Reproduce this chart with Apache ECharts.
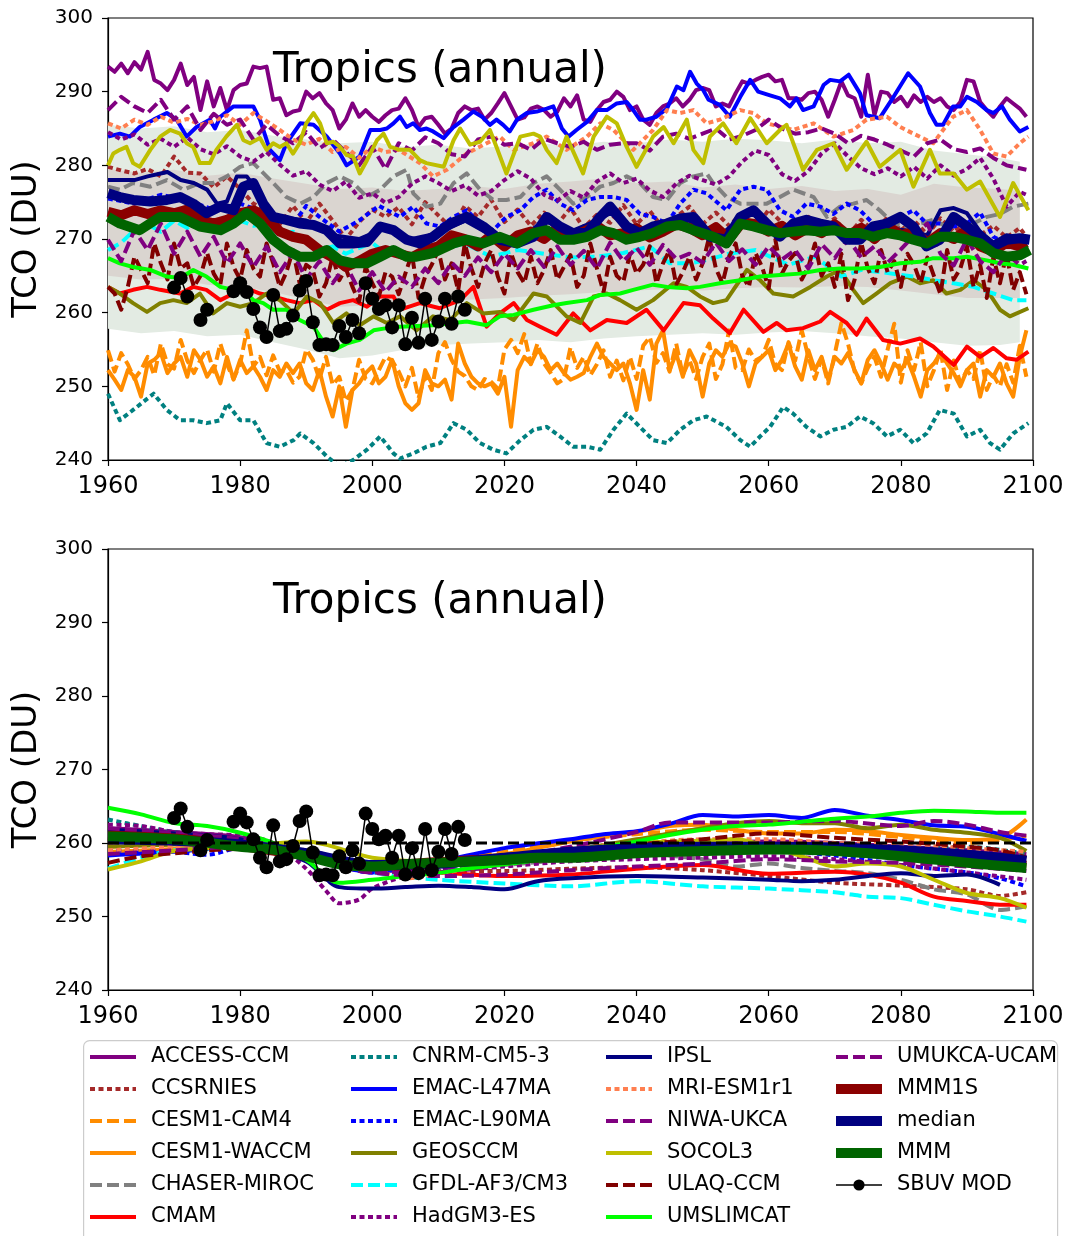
<!DOCTYPE html>
<html><head><meta charset="utf-8">
<script src="https://cdn.jsdelivr.net/npm/echarts@6.0.0/dist/echarts.min.js"></script>
<style>html,body{margin:0;padding:0;background:#fff}#c{width:1071px;height:1236px}</style>
</head><body><div id="c"></div>
<script>
// ---------------- tick labels / axes ----------------
const X_MIN = 1960, X_MAX = 2100, X_STEP = 20;
const Y_MIN = 240, Y_MAX = 300, Y_STEP = 10;
const TITLE = 'Tropics (annual)';
const Y_NAME = 'TCO (DU)';
const ANNUAL_START = 1960;

// ---------------- legend columns ----------------
const LEG_COL1 = ['ACCESS-CCM','CCSRNIES','CESM1-CAM4','CESM1-WACCM','CHASER-MIROC','CMAM'];
const LEG_COL2 = ['CNRM-CM5-3','EMAC-L47MA','EMAC-L90MA','GEOSCCM','GFDL-AF3/CM3','HadGM3-ES'];
const LEG_COL3 = ['IPSL','MRI-ESM1r1','NIWA-UKCA','SOCOL3','ULAQ-CCM','UMSLIMCAT'];
const LEG_COL4 = ['UMUKCA-UCAM','MMM1S','median','MMM','SBUV MOD'];

// ---------------- observations (SBUV MOD) ----------------
const SBUV_YEARS = [1970,1971,1972,1973,1974,1975,1976,1977,1978,1979,1980,1981,1982,1983,1984,1985,1986,1987,1988,1989,1990,1991,1992,1993,1994,1995,1996,1997,1998,1999,2000,2001,2002,2003,2004,2005,2006,2007,2008,2009,2010,2011,2012,2013,2014];
const SBUV_VALUES = [263.4,264.7,262.2,null,259.0,260.4,null,null,null,262.9,264.0,262.8,260.5,258.0,256.7,262.4,257.5,257.8,259.6,263.0,264.3,258.7,255.6,255.7,255.6,258.2,256.7,259.0,257.2,264.0,261.9,260.5,261.0,258.0,261.0,255.7,259.3,255.9,261.9,256.3,258.8,261.9,258.5,262.2,260.4];

// ---------------- TOP panel: annual series (1960..2099) ----------------
const ACCESS_T = [293.4,292.7,293.8,292.5,294.0,293.0,295.4,291.6,291.1,290.2,
291.6,293.8,290.9,292.0,287.5,291.4,288.0,290.5,287.5,290.2,
290.9,291.1,293.4,293.2,293.4,288.9,289.1,286.8,287.3,287.5,
290.0,289.1,289.8,288.4,287.5,285.0,286.2,288.4,286.6,287.5,
286.6,285.9,286.8,287.5,287.7,289.1,287.5,285.2,286.4,286.6,
285.5,284.3,285.0,287.1,288.0,287.5,287.7,286.2,287.1,288.4,
289.8,288.0,286.2,286.5,287.7,288.0,287.5,286.6,287.3,289.1,
288.0,289.5,286.2,285.9,287.5,288.6,288.9,290.0,289.3,287.5,
288.0,286.2,285.5,287.1,288.0,288.4,289.1,288.0,288.9,290.2,
290.5,290.2,288.0,288.4,288.0,289.8,291.4,291.1,291.6,292.0,
292.3,291.4,291.6,289.1,289.1,288.9,289.8,290.0,288.9,286.6,
288.9,291.4,289.5,289.1,286.6,292.3,286.8,290.0,289.8,288.6,
289.3,288.0,289.5,288.6,289.3,288.6,289.1,288.0,287.5,288.6,
291.6,291.4,288.6,287.5,286.6,288.0,289.1,288.4,287.7,286.6];
const WACCM_T = [252.2,250.9,249.5,252.2,251.3,248.6,253.1,253.6,254.5,251.8,
253.1,254.0,251.3,254.9,253.6,251.3,252.7,250.4,254.0,250.9,
253.6,251.8,252.7,251.3,249.5,252.2,251.3,253.1,251.8,253.1,
250.4,249.5,252.2,248.6,245.9,250.0,244.5,249.5,250.4,251.8,
252.7,250.4,251.3,253.6,250.0,247.7,246.8,247.7,252.2,250.4,
250.0,250.9,248.2,255.8,253.1,251.3,250.4,250.0,250.4,249.0,
251.3,244.5,252.2,254.0,253.1,254.9,254.0,252.2,253.1,251.8,
250.9,251.3,251.8,254.0,255.8,254.0,253.1,252.2,253.1,250.4,
246.8,252.2,248.2,255.8,257.6,252.2,254.5,251.3,254.9,253.1,
248.6,253.1,254.9,254.0,255.8,255.4,253.1,250.0,253.1,254.0,
254.9,252.2,253.6,255.8,252.7,250.9,254.9,252.2,254.0,250.9,
254.0,253.1,254.5,252.2,250.4,253.6,254.9,253.1,250.9,253.1,
252.2,253.6,251.3,248.6,252.2,253.1,254.5,253.1,251.8,250.0,
252.2,253.1,248.6,252.2,251.3,253.1,250.4,248.6,254.0,257.6];
const CAM4_T = [254.9,252.0,254.5,253.0,251.0,252.2,254.0,251.5,255.8,253.0,
252.4,256.3,253.5,251.8,253.6,255.0,252.0,255.8,253.0,251.0,
253.0,257.6,252.7,254.0,251.5,254.2,252.0,252.2,250.5,251.3,
255.0,253.6,251.0,254.0,250.2,251.3,248.0,249.5,253.6,251.0,
250.4,252.2,254.0,253.5,252.0,250.0,252.5,248.4,251.5,249.5,
254.5,256.0,253.6,252.0,251.4,250.0,249.5,251.0,250.6,249.7,
255.0,256.3,254.5,257.1,253.0,255.8,253.1,251.8,250.4,251.0,
255.3,252.5,254.0,251.5,253.0,254.9,251.3,253.5,250.8,254.0,
251.0,255.5,256.7,253.2,254.5,252.0,255.8,251.5,253.6,251.0,
254.0,255.8,251.0,253.0,257.6,252.5,252.2,255.0,253.5,254.0,
256.3,253.0,252.2,256.0,253.5,257.6,254.0,251.0,253.8,250.4,
254.4,258.6,255.8,252.0,250.4,252.5,254.0,251.3,255.0,258.5,
250.5,254.9,252.2,256.0,250.0,252.2,255.0,249.5,253.5,250.4,
252.2,251.0,255.0,249.5,251.5,250.0,253.0,250.5,255.5,251.3];
const ULAQ_T = [263.5,262.6,260.4,263.5,267.6,265.8,264.0,269.4,266.7,264.5,
269.4,266.0,266.7,263.5,265.0,268.1,265.3,263.8,269.4,266.2,
264.5,268.5,266.0,264.9,269.4,266.7,263.5,265.5,268.5,264.0,
266.5,265.8,262.2,264.0,267.6,264.4,266.0,263.5,261.5,266.2,
264.0,262.2,265.5,264.9,262.5,265.3,268.0,262.0,264.9,266.5,
268.5,264.5,266.7,263.0,269.4,266.0,263.5,266.7,268.5,264.9,
262.6,268.1,265.5,264.0,267.6,264.0,265.8,268.5,264.5,266.2,
267.8,263.5,265.0,269.4,266.0,262.8,267.6,265.0,264.2,268.0,
265.3,266.5,269.0,264.0,266.7,268.5,263.8,265.5,267.6,264.5,
266.7,270.3,266.0,264.0,267.6,269.4,265.0,263.5,268.1,266.2,
263.3,269.9,265.3,267.0,268.1,264.5,266.2,269.4,265.0,266.7,
263.5,268.0,261.7,264.5,269.5,266.0,264.0,268.5,265.5,267.0,
263.5,268.0,266.5,264.0,267.5,265.0,262.5,268.5,264.5,266.0,
269.0,263.5,266.5,262.0,267.5,264.0,268.0,263.1,265.5,262.5];

// ---------------- TOP panel: [year, DU] series ----------------
const CCSRNIES_T = [[1960,279.8],[1962,279.3],[1964,278.9],[1966,279.5],[1968,278.5],[1970,281.2],[1972,279.0],[1974,278.9],[1976,277.0],[1978,278.5],[1980,276.8],[1982,274.8],[1984,273.9],[1986,272.0],[1988,274.5],[1990,272.2],[1992,274.8],[1994,272.5],[1996,270.0],[1998,272.3],[2000,274.0],[2002,273.0],[2004,274.3],[2006,272.0],[2008,275.0],[2010,273.2],[2012,271.5],[2014,274.5],[2016,273.0],[2018,275.3],[2020,272.3],[2022,274.0],[2024,271.8],[2026,273.6],[2028,272.0],[2030,274.2],[2032,271.5],[2034,273.3],[2036,272.2],[2038,274.6],[2040,272.0],[2042,273.8],[2044,271.5],[2046,273.0],[2048,274.4],[2050,272.0],[2052,273.6],[2054,271.8],[2056,273.5],[2058,271.3],[2060,274.0],[2062,272.2],[2064,270.8],[2066,273.0],[2068,271.5],[2070,272.8],[2072,270.5],[2074,272.6],[2076,271.0],[2078,273.0],[2080,271.2],[2082,272.5],[2084,270.6],[2086,272.8],[2088,271.0],[2090,272.3],[2092,270.5],[2094,271.8],[2096,270.2],[2098,271.5],[2099,270.3]];
const CHASER_T = [[1960,277.1],[1961.8,276.7],[1963.8,277.6],[1966.4,277.1],[1968.9,278.0],[1971.4,276.7],[1973.9,277.6],[1975.9,277.6],[1978,278.5],[1980,279.8],[1982,280.3],[1983,279.4],[1985,277.6],[1987,275.7],[1989.1,274.8],[1991.1,275.7],[1993.1,277.6],[1995.1,278.5],[1997.1,277.6],[1999.2,275.7],[2001.2,276.7],[2003.2,278.5],[2005.2,279.4],[2006.2,276.2],[2008.2,274.4],[2010.3,274.8],[2012.3,277.6],[2014.3,278.9],[2016.3,276.7],[2018.3,275.3],[2020.3,275.3],[2022.4,275.7],[2024.4,277.6],[2026.4,278.5],[2028.4,276.7],[2030.4,274.8],[2032.5,275.7],[2034.5,277.1],[2036.5,277.6],[2038.5,278.5],[2040.5,277.6],[2042.5,275.7],[2044.6,275.3],[2046.6,277.6],[2048.6,278.5],[2050.6,278.9],[2051.6,277.6],[2053.6,275.7],[2055.7,274.8],[2059.7,274.8],[2061.7,275.7],[2063.7,276.7],[2066.8,275.7],[2068.8,273.0],[2070.8,274.4],[2072.8,274.8],[2074.8,275.3],[2076.8,273.9],[2078.9,272.1],[2080.9,271.7],[2082.9,272.1],[2084.9,272.6],[2086.9,271.7],[2089,272.1],[2091,272.1],[2093,273.0],[2095,273.4],[2097,274.4],[2099.3,274.8]];
const CMAM_T = [[1960,263.5],[1961.8,262.6],[1963.8,263.1],[1965.9,263.5],[1967.9,263.1],[1970.9,262.6],[1972.9,263.5],[1974.9,263.1],[1977,261.7],[1979,262.6],[1981,263.3],[1983,262.6],[1985,262.2],[1987,261.7],[1989,261.3],[1991.1,261.7],[1993.1,260.4],[1995.1,261.3],[1997.1,261.7],[1999.2,260.8],[2001.2,262.2],[2003.2,262.2],[2004.2,260.4],[2007.2,261.3],[2010.2,260.6],[2013.3,261.7],[2015.3,263.5],[2017.3,258.1],[2019.3,259.9],[2021.4,261.3],[2023.4,259.0],[2025.4,258.1],[2027.9,257.0],[2030.4,259.9],[2033,257.6],[2035.5,259.0],[2038.5,258.6],[2041.5,260.4],[2044.1,257.6],[2047.1,261.3],[2049.6,261.0],[2051.6,259.2],[2054.1,257.2],[2056.2,260.4],[2059.2,257.4],[2061.2,258.6],[2062.7,257.6],[2065.2,257.9],[2067.8,258.8],[2069.3,260.1],[2071.8,258.6],[2073.3,257.0],[2074.8,259.2],[2077.3,256.3],[2079.9,255.8],[2082.9,256.5],[2084.9,255.4],[2088,252.9],[2090,255.4],[2092,254.0],[2094,255.2],[2096,253.8],[2097.5,253.6],[2099.3,254.7]];
const CNRM_T = [[1960,249.0],[1961.8,245.4],[1963.8,246.8],[1966.9,249.0],[1968.9,246.8],[1970.9,245.4],[1972.9,245.4],[1974.9,245.0],[1977,245.4],[1978,247.7],[1980,245.4],[1982,245.4],[1984,242.3],[1986,241.8],[1988.1,242.7],[1989.1,243.6],[1991.1,242.3],[1993.1,240.5],[1995.1,239.1],[1997.1,240.0],[1999.2,241.4],[2001.2,243.2],[2003.2,240.9],[2004.2,240.2],[2006.2,240.9],[2008.2,241.8],[2010.3,242.3],[2012.3,245.0],[2014.3,244.1],[2016.3,242.3],[2018.3,241.4],[2020.3,240.9],[2022.4,242.7],[2024.4,244.1],[2026.4,244.5],[2028.4,243.2],[2030.4,241.8],[2032.5,241.8],[2034.5,241.4],[2036.5,244.1],[2038.5,246.3],[2040.5,244.5],[2042.5,242.7],[2044.6,242.3],[2046.6,244.1],[2048.6,245.4],[2050.6,245.9],[2053.6,244.5],[2055.7,242.7],[2057.2,241.8],[2058.7,243.2],[2060.2,244.5],[2062.2,247.2],[2063.7,246.3],[2065.7,244.5],[2067.8,243.2],[2069.8,244.1],[2071.8,244.5],[2073.8,245.9],[2075.8,245.0],[2077.9,243.2],[2079.9,244.1],[2081.9,242.3],[2083.9,243.6],[2085.9,246.8],[2088,246.3],[2090,243.2],[2092,244.1],[2093.5,242.3],[2095,241.4],[2097,243.6],[2099.3,245.0]];
const L47_T = [[1960,283.9],[1961.8,284.3],[1963.3,283.9],[1964.8,285.2],[1966.9,286.2],[1968.9,287.1],[1970.4,286.2],[1971.9,283.9],[1973.4,285.2],[1975.4,286.2],[1976.2,285.0],[1977,286.6],[1979,288.0],[1980.5,288.0],[1982,288.0],[1983,286.2],[1984.5,282.1],[1986,280.7],[1987,283.0],[1989.1,285.7],[1991.1,285.5],[1993.1,283.9],[1995.1,281.6],[1996.1,280.0],[1998.1,281.2],[1999.7,284.8],[2001.2,284.8],[2002.2,285.0],[2003.2,285.7],[2004.2,286.6],[2005.2,285.2],[2006.2,285.7],[2007.2,284.8],[2008.2,285.0],[2009.2,284.6],[2010.8,283.7],[2012.3,285.2],[2013.8,286.2],[2015.3,287.3],[2016.6,286.6],[2017.8,285.5],[2018.8,286.2],[2019.8,285.5],[2020.8,284.6],[2021.9,286.2],[2023.4,287.1],[2024.9,287.3],[2026.4,287.7],[2027.4,288.0],[2028.7,285.0],[2029.7,283.9],[2030.9,284.8],[2032.5,285.9],[2034,287.5],[2035.5,287.5],[2037,288.4],[2038.5,288.6],[2039.5,287.5],[2040.5,286.2],[2041.5,286.2],[2043,286.6],[2044.6,287.7],[2046.1,290.7],[2047.1,290.2],[2048.1,292.7],[2049.1,291.1],[2050.1,290.2],[2050.9,288.9],[2052.6,288.2],[2054.1,286.6],[2055.7,289.3],[2057.2,291.6],[2058.4,290.0],[2060.2,289.5],[2061.7,289.1],[2063.2,288.0],[2064.2,289.1],[2065.2,287.5],[2066.8,288.0],[2068.3,290.9],[2069.3,291.6],[2070.8,291.4],[2072.1,292.3],[2073.8,289.8],[2074.8,286.8],[2076.8,286.4],[2078.9,289.3],[2081.1,292.5],[2082.9,290.7],[2084.4,287.1],[2085.4,285.5],[2086.4,285.5],[2087.9,288.0],[2089,288.0],[2090,289.3],[2091.5,288.6],[2093,287.5],[2094,287.1],[2095.3,288.0],[2096.5,286.2],[2098,284.6],[2099.3,285.2]];
const L90_T = [[1960,275.5],[1964,274.8],[1968,276.0],[1972,275.2],[1976,274.0],[1980,274.8],[1984,273.5],[1988,272.0],[1990,274.5],[1992,273.0],[1995,271.0],[1998,272.5],[2001,274.5],[2004.2,273.0],[2006.2,274.4],[2008.2,272.1],[2010.3,271.7],[2012.3,273.0],[2014.3,273.9],[2016.3,272.1],[2018.3,271.2],[2020.3,273.0],[2022.4,273.9],[2024.4,275.7],[2026.4,276.7],[2028.4,274.8],[2030.4,273.9],[2032.5,275.3],[2034.5,275.7],[2036.5,275.7],[2038.5,275.3],[2040.5,273.4],[2042.5,273.0],[2044.6,272.1],[2046.6,274.8],[2048.6,276.7],[2050.6,276.2],[2053.6,273.9],[2055.7,276.7],[2057.7,277.1],[2059.7,276.7],[2061.7,273.9],[2063.7,273.0],[2065.7,274.8],[2067.8,274.4],[2069.8,273.4],[2071.8,274.8],[2073.8,273.9],[2075.8,272.1],[2077.9,271.2],[2079.9,273.0],[2081.9,273.9],[2083.9,272.1],[2085.9,272.1],[2088,271.7],[2090,272.1],[2092,273.6],[2094,270.3],[2096,269.4],[2098,268.5],[2099.3,268.1]];
const GEOS_T = [[1960,263.5],[1961.8,262.6],[1963.8,261.3],[1965.9,260.1],[1967.9,261.3],[1969.9,261.7],[1971.9,261.3],[1973.9,262.6],[1975.9,259.9],[1978,261.3],[1980,260.8],[1982,261.3],[1984,262.6],[1986,261.7],[1988.1,259.9],[1990.1,262.2],[1992.1,261.3],[1994.1,258.6],[1996.1,259.9],[1998.1,258.3],[2000.2,259.5],[2002.2,258.6],[2004.2,259.5],[2006.7,257.6],[2009.2,259.5],[2011.8,259.0],[2014.3,261.3],[2016.8,259.9],[2019.3,260.1],[2021.4,259.0],[2024.4,262.6],[2026.4,262.2],[2029.4,259.5],[2031.5,258.6],[2033.5,262.2],[2035.5,262.6],[2037.5,261.7],[2040,260.4],[2042.5,261.7],[2045.6,264.0],[2047.6,263.5],[2049.6,262.2],[2051.6,261.3],[2053.6,261.7],[2056.7,265.8],[2058.7,264.4],[2060.7,262.6],[2063.7,262.2],[2066.3,263.5],[2068.8,264.9],[2070.8,265.8],[2072.8,263.1],[2074.3,261.3],[2076.3,262.6],[2078.4,264.0],[2080.9,264.9],[2082.9,264.0],[2084.9,264.4],[2086.9,262.6],[2089,263.1],[2091,264.4],[2093,263.1],[2095,260.4],[2096.5,259.5],[2099.3,260.6]];
const GFDL_T = [[1960,268.5],[1962,269.5],[1964,271.2],[1966,272.0],[1968,271.0],[1970,272.5],[1972,271.5],[1974,273.0],[1976,272.2],[1978,271.5],[1980,272.5],[1982,271.8],[1984,272.0],[1986,270.5],[1988,271.0],[1990,269.8],[1992,268.5],[1994,269.0],[1996,268.0],[1998,268.8],[2000,269.5],[2002,268.0],[2004,268.5],[2006,267.6],[2008,268.2],[2010,268.5],[2014,269.4],[2018,267.6],[2022,268.5],[2026,268.0],[2030,267.5],[2034,267.6],[2038,268.1],[2042,269.0],[2045,266.7],[2048,266.7],[2050,267.0],[2054,268.0],[2058,268.5],[2063,266.5],[2067,267.6],[2071,264.9],[2074,265.8],[2077,265.5],[2082,264.9],[2085,264.4],[2088,264.0],[2091,263.5],[2094,262.6],[2097,261.7],[2099,261.7]];
const HADGM3_T = [[1960,284.5],[1962,283.5],[1964,284.2],[1966,282.8],[1968,283.6],[1970,282.5],[1972,283.8],[1974,282.2],[1976,281.5],[1978,282.6],[1980,281.2],[1982,280.5],[1984,281.8],[1986,280.1],[1988,278.6],[1990,279.2],[1992,277.4],[1994,276.5],[1996,277.8],[1998,275.6],[2000,276.2],[2002,274.9],[2004,275.7],[2006,277.5],[2008,278.5],[2010,277.6],[2012,276.5],[2014,277.3],[2016,275.9],[2018,276.5],[2020,278.0],[2022,279.2],[2024,278.2],[2026,276.0],[2028,275.2],[2030,276.5],[2032,275.6],[2034,277.8],[2036,278.9],[2038,277.6],[2040,278.2],[2042,276.6],[2044,275.7],[2046,277.5],[2048,278.6],[2050,278.0],[2052,277.4],[2054,278.5],[2056,280.5],[2058,282.0],[2060,281.4],[2062,278.8],[2064,277.9],[2066,279.2],[2068,281.6],[2070,283.0],[2072,281.2],[2074,279.6],[2076,278.8],[2078,279.6],[2080,278.5],[2082,279.8],[2084,278.2],[2086,280.0],[2088,278.6],[2090,279.5],[2092,281.0],[2094,278.2],[2096,274.4],[2098,276.4],[2099,276.0]];
const IPSL_T = [[1960,278.0],[1964,278.0],[1966,278.5],[1969,279.1],[1971,278.0],[1973,277.6],[1975,276.7],[1976.5,274.8],[1978,275.1],[1979.5,278.5],[1981,278.5],[1982.5,276.7],[1983.5,273.9],[1986,273.0],[1990,272.5],[1994,270.5],[1998,270.0],[2002,271.5],[2006,270.0],[2010,270.8],[2014,272.5],[2018,270.5],[2022,269.8],[2026,272.5],[2030,271.0],[2034,272.5],[2036,273.5],[2040,271.0],[2044,271.8],[2048,272.5],[2052,270.0],[2056,273.0],[2058,273.5],[2062,270.8],[2066,272.3],[2070,271.5],[2074,270.0],[2078,271.5],[2082,271.0],[2084,270.5],[2086,273.9],[2088,274.2],[2090,273.5],[2092,271.0],[2094,269.5],[2096,270.5],[2099,270.0]];
const MRI_T = [[1960,285.7],[1962,285.0],[1964,286.2],[1966,285.5],[1968,286.6],[1970,285.8],[1972,286.3],[1974,285.5],[1976,286.0],[1978,286.8],[1980,285.5],[1982,287.1],[1984,286.0],[1986,284.8],[1988,283.5],[1990,282.8],[1992,283.6],[1994,281.8],[1996,282.5],[1998,281.0],[2000,282.5],[2002,281.8],[2004,282.1],[2007.2,280.3],[2009.2,278.5],[2011.3,279.4],[2014.3,281.6],[2017.3,283.0],[2019.3,283.9],[2021.4,282.1],[2024.4,283.0],[2026.4,283.9],[2029.4,282.1],[2032.5,283.9],[2034.5,285.7],[2036.5,284.8],[2039.5,282.1],[2042.5,284.8],[2044.6,287.5],[2046.6,287.1],[2048.6,287.5],[2050.6,285.7],[2052.6,286.2],[2055.7,287.5],[2057.7,287.1],[2059.7,285.7],[2063.7,284.8],[2066.8,285.7],[2069.8,283.9],[2072.8,284.8],[2074.8,286.2],[2077.9,286.6],[2079.9,285.2],[2081.9,284.3],[2084.9,283.0],[2087.9,286.6],[2090,287.5],[2092,284.8],[2094,281.6],[2096,281.2],[2098,283.0],[2099.3,283.9]];
const NIWA_T = [[1960,287.5],[1962,289.3],[1964,288.0],[1966,287.1],[1968,288.9],[1970,286.2],[1972,288.0],[1974,284.8],[1976,287.0],[1978,285.5],[1980,286.2],[1982,283.5],[1984,285.5],[1986,284.0],[1988,283.0],[1990,284.5],[1992,282.3],[1994,283.5],[1996,281.8],[1998,280.0],[2000,282.5],[2002,279.5],[2004,283.0],[2006,282.0],[2008,283.8],[2010,283.0],[2012,281.5],[2014,281.2],[2016,283.5],[2018,283.9],[2020,282.8],[2022,283.0],[2024,282.1],[2026,283.6],[2028,283.0],[2030,282.5],[2032,283.2],[2034,282.1],[2036,282.8],[2038,283.0],[2040,283.0],[2042,282.0],[2044,283.9],[2046,284.3],[2048,283.6],[2050,284.3],[2052,285.0],[2054,283.5],[2056,284.0],[2058,284.8],[2060,286.2],[2062,285.0],[2064,284.3],[2066,284.5],[2068,285.0],[2070,284.3],[2072,283.0],[2074,284.0],[2076,283.5],[2078,282.8],[2080,282.0],[2082,281.2],[2084,283.0],[2086,283.5],[2088,282.2],[2090,281.8],[2092,282.3],[2094,281.0],[2096,280.0],[2098,279.6],[2099,279.4]];
const SOCOL_T = [[1960,280.0],[1960.8,281.6],[1961.8,282.1],[1962.8,282.5],[1963.8,280.3],[1964.8,279.8],[1966.4,282.1],[1967.9,283.9],[1969.4,284.8],[1970.9,284.3],[1971.9,283.0],[1972.9,282.5],[1973.9,280.3],[1975.4,280.3],[1976.4,282.1],[1977.9,283.9],[1979.5,285.5],[1980.5,283.4],[1981.5,283.0],[1983,283.7],[1984,282.1],[1985,283.0],[1986,282.5],[1987,283.0],[1988,281.6],[1989,283.0],[1990,285.7],[1991.1,287.1],[1992.1,285.7],[1993.1,283.0],[1994.1,283.2],[1995.1,282.5],[1996.1,281.4],[1997.1,281.2],[1998.1,278.9],[1999.2,280.7],[2000.7,283.4],[2001.7,284.3],[2002.7,282.5],[2004.2,282.1],[2005.7,282.1],[2007.2,280.7],[2008.2,280.3],[2010.8,279.8],[2012.3,283.4],[2013.3,285.0],[2014.8,282.8],[2016.3,283.2],[2017.8,284.8],[2018.8,282.5],[2020.3,278.9],[2022.4,283.9],[2024.4,284.3],[2025.4,283.9],[2026.4,282.1],[2027.9,280.3],[2029.4,283.9],[2031.9,278.9],[2033.5,283.9],[2035.5,286.6],[2037,285.7],[2038.5,282.5],[2040,279.8],[2042.5,283.9],[2044.1,285.2],[2045.6,283.0],[2047.6,286.2],[2048.6,282.1],[2050.1,280.3],[2051.1,283.9],[2053.1,285.7],[2055.1,283.0],[2057.2,286.4],[2059.7,283.0],[2061.7,284.8],[2062.7,285.5],[2065.2,279.4],[2067.3,282.1],[2069.8,283.0],[2071.8,279.4],[2074.8,283.2],[2076.8,279.8],[2079.9,282.1],[2081.9,277.1],[2084.4,282.1],[2085.9,278.9],[2088,278.9],[2090,276.7],[2092,277.8],[2095,273.0],[2097,277.6],[2099.3,273.9]];
const UMSLIM_T = [[1960,267.4],[1961.8,266.7],[1963.8,266.2],[1966.4,265.8],[1968.9,264.9],[1970.9,264.7],[1972.9,265.8],[1974.9,264.9],[1977,263.5],[1979,263.1],[1980.5,263.1],[1982,261.7],[1983.5,261.3],[1985,260.4],[1987,260.4],[1989,259.0],[1991.1,258.1],[1993.1,255.4],[1994.1,254.9],[1996.1,255.8],[1998.1,256.3],[2000.2,257.6],[2002.2,257.9],[2004.2,258.1],[2009.2,258.3],[2012.3,258.6],[2014.3,258.8],[2017.3,258.3],[2019.3,259.5],[2021.4,259.7],[2024.4,260.4],[2027.4,261.0],[2029.4,261.3],[2032.5,261.7],[2034.5,262.4],[2037.5,262.6],[2039.5,263.1],[2042.5,263.8],[2044.6,263.5],[2047.6,263.3],[2049.6,263.5],[2052.6,264.0],[2055.7,264.4],[2058.7,264.9],[2061.7,265.1],[2064.7,265.3],[2067.8,265.8],[2070.8,266.0],[2073.8,266.0],[2076.8,266.2],[2079.9,266.7],[2082.9,266.9],[2084.9,267.4],[2088,267.4],[2090,267.6],[2093,267.1],[2095,266.7],[2097,266.5],[2099.3,266.0]];
const UMUKCA_T = [[1960,269.9],[1962,267.0],[1964,271.2],[1966,268.5],[1968,272.1],[1970,268.0],[1972,271.0],[1974,267.6],[1976,270.3],[1978,266.7],[1980,269.4],[1982,266.2],[1984,269.0],[1986,265.5],[1988,268.2],[1990,264.5],[1992,267.0],[1994,264.0],[1996,266.5],[1998,263.0],[2000,265.5],[2002,262.8],[2004,264.9],[2006,263.5],[2008,266.0],[2010,264.0],[2012,266.8],[2014,265.0],[2016,267.5],[2018,265.5],[2020,268.0],[2022,266.0],[2024,268.5],[2026,266.2],[2028,269.0],[2030,266.5],[2032,268.4],[2034,266.0],[2036,269.5],[2038,267.0],[2040,268.8],[2042,266.5],[2044,269.2],[2046,267.3],[2048,268.0],[2050,266.8],[2052,269.5],[2054,267.0],[2056,268.6],[2058,266.5],[2060,269.0],[2062,267.2],[2064,268.5],[2066,266.0],[2068,269.3],[2070,267.4],[2072,270.0],[2074,267.5],[2076,269.0],[2078,266.8],[2080,268.6],[2082,270.5],[2084,272.1],[2086,268.0],[2088,266.4],[2090,270.0],[2092,267.0],[2094,265.5],[2096,268.0],[2098,266.5],[2099,267.0]];
const MMM1S_T = [[1960,273.7],[1962,273.2],[1964,273.9],[1966,273.4],[1968,273.9],[1970,273.5],[1972,274.0],[1974,272.6],[1976,272.1],[1978,272.6],[1980,273.5],[1982,273.9],[1984,273.0],[1986,271.0],[1988,270.3],[1990,269.9],[1992,268.5],[1994,267.5],[1996,266.2],[1998,267.0],[2000,268.0],[2002,268.5],[2004,268.0],[2006,267.5],[2008,268.5],[2010,269.0],[2012,270.5],[2014,270.0],[2016,269.0],[2018,270.5],[2020,269.0],[2022,270.5],[2024,271.0],[2026,270.0],[2028,271.5],[2030,270.2],[2032,271.0],[2034,271.8],[2036,270.5],[2038,270.8],[2040,271.5],[2042,270.2],[2044,271.0],[2046,272.0],[2048,271.5],[2050,270.5],[2052,271.6],[2054,270.0],[2056,272.3],[2058,272.0],[2060,271.0],[2062,271.8],[2064,270.5],[2066,271.5],[2068,270.8],[2070,272.0],[2072,270.5],[2074,271.5],[2076,270.0],[2078,271.8],[2080,270.5],[2082,271.0],[2084,269.5],[2086,270.8],[2088,270.0],[2090,271.2],[2092,269.0],[2094,268.3],[2096,269.5],[2098,269.0],[2099,269.5]];
const MEDIAN_T = [[1960,276.2],[1961.8,275.7],[1963.8,275.3],[1966.4,275.1],[1968.9,275.3],[1970.9,275.7],[1972.9,274.8],[1974.9,273.5],[1977,274.4],[1979,273.9],[1980.5,277.1],[1982,277.6],[1983.5,274.8],[1985,273.0],[1987,272.6],[1989,272.1],[1991.1,271.9],[1993.1,271.2],[1995.1,269.4],[1997.1,269.4],[1999.2,269.6],[2001.2,271.7],[2003.2,271.2],[2005.2,269.9],[2007.2,269.4],[2009.2,270.3],[2011.8,272.1],[2014.3,273.0],[2016.8,271.7],[2019.3,269.9],[2021.9,269.4],[2024.4,270.3],[2026.4,273.0],[2028.4,271.7],[2030.4,270.8],[2032.5,270.8],[2034.5,273.0],[2036,274.4],[2038.5,271.7],[2040.5,270.8],[2042.5,271.7],[2044.6,272.1],[2046.6,272.8],[2048.6,273.0],[2051.1,270.3],[2053.6,269.9],[2055.7,273.0],[2057.7,273.9],[2059.7,272.1],[2061.7,270.3],[2063.7,272.1],[2065.7,272.6],[2067.8,272.1],[2069.8,271.7],[2071.8,269.9],[2073.8,269.9],[2075.8,271.7],[2077.9,272.1],[2079.9,273.0],[2081.9,271.7],[2083.9,269.0],[2085.9,269.9],[2088,273.0],[2090,271.7],[2092,270.3],[2094,269.0],[2096,269.9],[2098,270.1],[2099.5,269.9]];
const MMM_T = [[1960,273.0],[1961.8,272.1],[1964.8,271.2],[1967.9,273.0],[1970.9,273.0],[1973.9,271.7],[1977,271.2],[1979,272.1],[1981,273.5],[1983,272.1],[1985,269.9],[1987,268.5],[1989,267.6],[1991.1,267.6],[1993.1,268.5],[1995.1,267.1],[1997.1,266.7],[1999.2,266.7],[2001.2,267.6],[2003.2,268.5],[2005.2,267.6],[2006.7,267.6],[2009.2,268.1],[2012.3,269.4],[2014.3,269.9],[2016.8,269.4],[2019.3,270.3],[2021.9,269.4],[2024.4,270.8],[2026.4,271.2],[2028.4,269.9],[2030.4,269.9],[2032.5,270.3],[2034.5,271.2],[2036.5,270.8],[2038.5,269.9],[2040.5,270.3],[2042.5,270.8],[2044.6,271.7],[2046.6,271.9],[2048.6,271.2],[2051.6,270.3],[2053.6,269.4],[2055.7,272.1],[2057.7,271.7],[2059.7,271.2],[2061.7,270.8],[2063.7,271.0],[2065.7,271.2],[2067.8,271.0],[2069.8,271.2],[2071.8,270.8],[2073.8,270.8],[2075.8,270.3],[2077.9,270.8],[2079.9,270.5],[2081.9,269.9],[2083.9,269.4],[2085.9,270.3],[2088,270.3],[2090,269.9],[2092,269.4],[2094,268.1],[2096,267.6],[2098,267.8],[2099.5,268.5]];

// ---------------- TOP panel: spread bands ----------------
const BAND_OUT_HI = [[1960,285.5],[1965,285.0],[1970,285.3],[1975,284.5],[1980,284.8],[1985,284.0],[1990,283.5],[1995,283.0],[2000,283.2],[2005,282.5],[2010,282.8],[2015,282.3],[2020,282.6],[2025,283.0],[2030,282.7],[2035,283.2],[2040,283.0],[2045,283.5],[2050,283.2],[2055,283.6],[2060,283.4],[2065,283.0],[2070,283.5],[2075,283.0],[2080,283.2],[2085,282.0],[2090,281.5],[2095,281.0],[2098,280.5]];
const BAND_OUT_LO = [[1960,257.8],[1965,257.2],[1970,257.5],[1975,256.8],[1980,257.0],[1985,256.0],[1990,255.0],[1995,253.8],[2000,254.2],[2005,255.0],[2010,255.6],[2015,255.8],[2020,256.0],[2025,256.3],[2030,256.0],[2035,256.5],[2040,256.8],[2045,257.0],[2050,257.2],[2055,257.0],[2060,257.3],[2065,257.5],[2070,257.2],[2075,256.8],[2080,256.5],[2085,256.0],[2090,255.5],[2095,255.6],[2098,256.0]];
const BAND_IN_HI = [[1960,279.5],[1965,279.0],[1970,279.4],[1975,278.6],[1980,279.0],[1985,278.2],[1990,277.5],[1995,276.8],[2000,277.0],[2005,276.5],[2010,276.8],[2015,277.2],[2020,276.8],[2025,277.5],[2030,277.8],[2035,278.2],[2040,277.6],[2045,277.8],[2050,277.0],[2055,277.4],[2060,276.8],[2065,277.2],[2070,276.5],[2075,276.8],[2080,276.0],[2085,277.5],[2090,277.0],[2095,276.8],[2098,276.5]];
const BAND_IN_LO = [[1960,265.0],[1965,264.5],[1970,264.6],[1975,263.8],[1980,263.5],[1985,262.8],[1990,261.8],[1995,260.8],[2000,261.0],[2005,261.2],[2010,261.5],[2015,261.8],[2020,262.0],[2025,262.3],[2030,262.5],[2035,262.8],[2040,263.0],[2045,263.2],[2050,263.0],[2055,263.3],[2060,263.5],[2065,263.4],[2070,263.6],[2075,263.5],[2080,263.0],[2085,262.5],[2090,262.0],[2095,262.0],[2098,262.0]];

// ---------------- BOTTOM panel: smoothed series [year, DU] ----------------
const ACCESS_B = [[1960,262.0],[1970,261.5],[1980,260.8],[1990,258.8],[2000,256.5],[2010,256.8],[2020,258.0],[2030,259.0],[2040,259.5],[2050,260.0],[2060,260.2],[2070,260.0],[2080,259.5],[2090,259.0],[2099,258.5]];
const CCSRNIES_B = [[1960,260.0],[1970,260.5],[1980,260.5],[1990,259.0],[2000,257.0],[2010,256.2],[2020,256.2],[2030,256.5],[2040,256.7],[2050,256.3],[2060,255.5],[2070,254.6],[2080,254.2],[2090,253.7],[2095,252.8],[2099,253.3]];
const CAM4_B = [[1960,259.5],[1970,259.8],[1980,260.0],[1990,258.8],[2000,257.2],[2010,257.6],[2020,258.8],[2030,260.3],[2040,261.2],[2050,261.8],[2060,261.5],[2070,261.5],[2080,260.8],[2090,260.0],[2099,261.0]];
const WACCM_B = [[1960,258.8],[1970,259.2],[1980,259.8],[1990,258.8],[2000,257.0],[2010,257.5],[2020,258.5],[2030,260.2],[2035,260.9],[2040,261.5],[2045,262.3],[2050,262.5],[2055,261.8],[2060,261.3],[2065,261.3],[2070,261.8],[2075,261.6],[2080,261.1],[2085,260.7],[2090,260.4],[2095,260.7],[2099,263.2]];
const CHASER_B = [[1960,260.5],[1970,260.0],[1980,260.0],[1990,259.0],[2000,257.0],[2010,256.5],[2020,257.0],[2030,257.8],[2040,258.5],[2050,257.8],[2055,256.8],[2060,257.2],[2065,256.6],[2070,256.2],[2075,255.9],[2080,255.0],[2085,253.7],[2090,253.0],[2095,250.9],[2099,251.4]];
const CMAM_B = [[1960,260.5],[1970,260.2],[1980,259.8],[1990,258.5],[2000,256.5],[2010,256.0],[2020,255.5],[2030,255.7],[2040,256.5],[2050,257.0],[2060,255.8],[2070,256.1],[2075,255.7],[2080,254.6],[2085,252.7],[2090,252.1],[2095,251.6],[2099,251.6]];
const CNRM_B = [[1960,263.2],[1965,262.3],[1970,261.5],[1980,260.5],[1990,258.5],[2000,256.5],[2010,256.5],[2020,257.5],[2030,258.3],[2040,259.0],[2050,259.3],[2060,259.4],[2070,259.2],[2080,259.0],[2090,259.5],[2099,258.5]];
const L47_B = [[1960,258.3],[1970,258.8],[1980,259.5],[1990,258.5],[2000,256.0],[2010,257.5],[2020,259.3],[2030,260.5],[2035,261.2],[2040,261.6],[2045,262.6],[2050,263.8],[2055,263.6],[2060,263.8],[2065,263.4],[2070,264.5],[2075,263.7],[2080,263.1],[2085,262.4],[2090,262.2],[2095,261.2],[2099,260.3]];
const L90_B = [[1960,259.0],[1970,258.8],[1975,258.4],[1980,259.3],[1990,258.3],[2000,256.0],[2010,256.8],[2020,258.0],[2030,258.5],[2040,259.2],[2050,259.3],[2060,259.1],[2070,258.3],[2075,257.7],[2080,257.0],[2090,256.0],[2095,255.2],[2099,254.1]];
const GEOS_B = [[1960,259.5],[1970,259.8],[1980,260.0],[1990,258.5],[2000,256.5],[2010,257.0],[2020,258.0],[2030,259.0],[2040,260.5],[2045,261.3],[2050,262.0],[2055,262.7],[2060,263.0],[2065,262.7],[2070,262.7],[2075,262.0],[2080,262.5],[2085,261.8],[2090,261.4],[2095,260.7],[2099,258.9]];
const GFDL_B = [[1960,256.5],[1965,258.0],[1970,259.0],[1980,259.3],[1990,258.0],[2000,256.0],[2010,255.0],[2020,254.5],[2030,254.1],[2040,254.8],[2050,254.1],[2060,253.8],[2070,253.3],[2075,252.7],[2080,252.5],[2085,251.6],[2090,250.7],[2095,250.0],[2099,249.3]];
const HADGM3_B = [[1960,262.5],[1965,262.3],[1970,261.5],[1975,261.2],[1980,261.0],[1985,260.0],[1990,256.5],[1993,253.5],[1995,251.8],[1998,252.3],[2000,253.8],[2005,255.5],[2010,256.0],[2020,256.8],[2030,257.5],[2040,257.8],[2050,258.0],[2060,258.2],[2070,257.8],[2080,257.0],[2090,256.0],[2099,255.0]];
const IPSL_B = [[1960,261.8],[1970,261.3],[1980,260.5],[1990,257.5],[1995,254.0],[2000,253.8],[2005,254.0],[2010,254.2],[2015,254.0],[2020,253.7],[2025,254.8],[2030,255.2],[2040,255.5],[2050,255.3],[2060,255.0],[2065,254.8],[2070,255.0],[2080,255.9],[2085,255.5],[2090,255.7],[2095,254.3]];
const MRI_B = [[1960,259.0],[1970,259.5],[1980,260.0],[1990,258.5],[2000,256.5],[2005,255.2],[2010,255.8],[2020,257.5],[2030,259.3],[2040,260.0],[2050,260.5],[2060,260.5],[2070,260.0],[2080,259.8],[2090,259.3],[2099,258.8]];
const NIWA_B = [[1960,262.0],[1970,261.3],[1980,260.5],[1990,258.5],[2000,256.0],[2010,256.5],[2020,258.0],[2030,259.5],[2040,261.5],[2045,262.8],[2050,262.8],[2060,262.8],[2070,263.0],[2080,262.3],[2085,263.0],[2090,262.5],[2095,261.5],[2099,261.0]];
const SOCOL_B = [[1960,256.4],[1965,257.5],[1970,258.9],[1980,259.5],[1990,260.2],[2000,258.0],[2010,257.5],[2020,258.0],[2030,259.0],[2040,260.0],[2050,260.3],[2055,260.5],[2060,259.5],[2065,258.2],[2070,256.8],[2075,257.2],[2080,256.8],[2085,255.0],[2090,253.2],[2095,252.5],[2099,251.2]];
const ULAQ_B = [[1960,257.3],[1965,258.2],[1970,258.6],[1980,259.2],[1990,258.5],[2000,256.5],[2010,256.8],[2020,258.0],[2030,259.0],[2040,259.8],[2050,260.5],[2060,261.3],[2070,260.7],[2080,260.2],[2090,259.5],[2095,259.0],[2099,258.0]];
const UMSLIM_B = [[1960,264.8],[1965,263.9],[1970,262.7],[1975,262.3],[1980,261.4],[1985,260.0],[1990,257.7],[1995,254.6],[2000,255.0],[2005,255.5],[2010,255.9],[2015,256.6],[2020,257.1],[2025,257.7],[2030,259.1],[2035,259.5],[2040,260.2],[2045,261.1],[2050,261.8],[2055,262.3],[2060,262.5],[2065,262.9],[2070,263.3],[2075,263.6],[2080,264.1],[2085,264.4],[2090,264.3],[2095,264.1],[2099,264.1]];
const UMUKCA_B = [[1960,258.5],[1970,259.0],[1980,259.5],[1990,258.0],[2000,256.0],[2010,255.5],[2020,255.7],[2030,256.3],[2040,256.8],[2050,257.2],[2060,257.8],[2070,257.5],[2080,257.3],[2090,256.8],[2099,256.2]];
const MMM1S_B = [[1960,261.0],[1970,260.6],[1980,259.6],[1990,258.3],[2000,256.9],[2010,257.4],[2020,257.9],[2030,258.2],[2040,258.8],[2050,259.1],[2060,259.3],[2070,259.1],[2080,258.5],[2090,257.6],[2099,256.9]];
const MEDIAN_B = [[1960,260.5],[1970,260.3],[1980,259.8],[1990,258.6],[2000,257.0],[2010,257.2],[2020,258.0],[2030,258.8],[2040,259.3],[2050,259.5],[2060,259.5],[2070,259.4],[2080,259.0],[2090,258.4],[2095,258.0],[2099,257.6]];
const MMM_B = [[1960,260.9],[1970,260.5],[1980,259.5],[1985,259.1],[1990,258.2],[1995,257.1],[2000,256.8],[2005,257.1],[2010,257.3],[2020,257.7],[2025,258.0],[2030,258.0],[2040,258.6],[2050,258.9],[2060,259.1],[2070,258.9],[2080,258.2],[2090,257.3],[2099,256.6]];
const REF_B = [[1960,260],[2100,260]];

// ---------------- styles ----------------
const FONT = 'DejaVu Sans';
const LW = 4, LW_THICK = 10;
const DASH = [12,5], DOT = [5,3.5];
const STY = {
  'ACCESS-CCM':['#800080','solid',LW],'CCSRNIES':['#a52a2a',DOT,LW],'CESM1-CAM4':['#ff8c00',DASH,LW],
  'CESM1-WACCM':['#ff8c00','solid',LW],'CHASER-MIROC':['#808080',DASH,LW],'CMAM':['#ff0000','solid',LW],
  'CNRM-CM5-3':['#008080',DOT,LW],'EMAC-L47MA':['#0000ff','solid',LW],'EMAC-L90MA':['#0000ff',DOT,LW],
  'GEOSCCM':['#808000','solid',LW],'GFDL-AF3/CM3':['#00ffff',DASH,LW],'HadGM3-ES':['#800080',DOT,LW],
  'IPSL':['#000080','solid',LW],'MRI-ESM1r1':['#ff7f50',DOT,LW],'NIWA-UKCA':['#800080',DASH,LW],
  'SOCOL3':['#bfbf00','solid',LW],'ULAQ-CCM':['#800000',DASH,LW],'UMSLIMCAT':['#00ff00','solid',LW],
  'UMUKCA-UCAM':['#800080',DASH,LW],'MMM1S':['#8b0000','solid',LW_THICK],'median':['#000080','solid',LW_THICK],
  'MMM':['#006400','solid',LW_THICK]
};
const annual = arr => arr.map((v,i)=>[ANNUAL_START+i, v]);
const TOP = {
  'ACCESS-CCM':annual(ACCESS_T),'CCSRNIES':CCSRNIES_T,'CESM1-CAM4':annual(CAM4_T),'CESM1-WACCM':annual(WACCM_T),
  'CHASER-MIROC':CHASER_T,'CMAM':CMAM_T,'CNRM-CM5-3':CNRM_T,'EMAC-L47MA':L47_T,'EMAC-L90MA':L90_T,
  'GEOSCCM':GEOS_T,'GFDL-AF3/CM3':GFDL_T,'HadGM3-ES':HADGM3_T,'IPSL':IPSL_T,'MRI-ESM1r1':MRI_T,
  'NIWA-UKCA':NIWA_T,'SOCOL3':SOCOL_T,'ULAQ-CCM':annual(ULAQ_T),'UMSLIMCAT':UMSLIM_T,'UMUKCA-UCAM':UMUKCA_T,
  'MMM1S':MMM1S_T,'median':MEDIAN_T,'MMM':MMM_T
};
const BOT = {
  'ACCESS-CCM':ACCESS_B,'CCSRNIES':CCSRNIES_B,'CESM1-CAM4':CAM4_B,'CESM1-WACCM':WACCM_B,'CHASER-MIROC':CHASER_B,
  'CMAM':CMAM_B,'CNRM-CM5-3':CNRM_B,'EMAC-L47MA':L47_B,'EMAC-L90MA':L90_B,'GEOSCCM':GEOS_B,'GFDL-AF3/CM3':GFDL_B,
  'HadGM3-ES':HADGM3_B,'IPSL':IPSL_B,'MRI-ESM1r1':MRI_B,'NIWA-UKCA':NIWA_B,'SOCOL3':SOCOL_B,'ULAQ-CCM':ULAQ_B,
  'UMSLIMCAT':UMSLIM_B,'UMUKCA-UCAM':UMUKCA_B,'MMM1S':MMM1S_B,'median':MEDIAN_B,'MMM':MMM_B
};
const ORDER = [...LEG_COL1,...LEG_COL2,...LEG_COL3,'UMUKCA-UCAM','MMM1S','median','MMM'];

function lineSeries(name, data, gi, smooth){
  const s = STY[name];
  return {type:'line', name, data, xAxisIndex:gi, yAxisIndex:gi, showSymbol:false, symbol:'none',
    smooth: smooth ? 0.3 : false, clip:true, silent:true,
    lineStyle:{color:s[0], type:s[1], width:s[2], cap:'butt', join:'round'},
    itemStyle:{color:s[0]}};
}
function band(hi, lo, color, gi){
  return {type:'custom', xAxisIndex:gi, yAxisIndex:gi, data:[0], silent:true, clip:true, z:1,
    renderItem:(p, api)=>{
      const pts = hi.map(d=>api.coord(d)).concat(lo.slice().reverse().map(d=>api.coord(d)));
      return {type:'polygon', shape:{points:pts}, style:{fill:color}};
    }};
}
const sbuvData = SBUV_YEARS.map((y,i)=>[y, SBUV_VALUES[i]]);
function sbuv(gi){
  return {type:'line', name:'SBUV MOD', data:sbuvData, xAxisIndex:gi, yAxisIndex:gi, connectNulls:false,
    symbol:'circle', symbolSize:14, showSymbol:true, silent:true, z:5,
    lineStyle:{color:'#000', width:1.5}, itemStyle:{color:'#000', borderWidth:0}};
}

const series = [];
series.push(band(BAND_OUT_HI, BAND_OUT_LO, '#e3ebe3', 0));
series.push(band(BAND_IN_HI, BAND_IN_LO, '#dad5d0', 0));
ORDER.forEach(n=>series.push(lineSeries(n, TOP[n], 0, false)));
series.push(sbuv(0));
ORDER.forEach(n=>series.push(lineSeries(n, BOT[n], 1, true)));
series.push({type:'line', name:'ref', data:REF_B, xAxisIndex:1, yAxisIndex:1, symbol:'none', silent:true, z:4,
  lineStyle:{color:'#000', width:3, type:[11,5]}});
series.push(sbuv(1));

const grids = [
  {left:108, top:18, width:925, height:442},
  {left:108, top:549, width:925, height:441}
].map(g=>Object.assign(g,{show:true, borderColor:'#000', borderWidth:1.2, backgroundColor:'transparent', containLabel:false, outerBoundsMode:'none'}));

function xAx(gi){ return {type:'value', gridIndex:gi, min:X_MIN, max:X_MAX, interval:X_STEP,
  axisLine:{show:true, onZero:false, lineStyle:{color:'#000', width:1.2}},
  axisTick:{show:true, length:6, inside:false, lineStyle:{color:'#000', width:1.2}},
  axisLabel:{fontSize:24, color:'#000', fontFamily:FONT, margin:15, formatter:v=>String(v)},
  splitLine:{show:false}}; }
function yAx(gi){ return {type:'value', gridIndex:gi, min:Y_MIN, max:Y_MAX, interval:Y_STEP,
  name:Y_NAME, nameLocation:'middle', nameGap:57,
  nameTextStyle:{fontSize:34, color:'#000', fontFamily:FONT},
  axisLine:{show:true, onZero:false, lineStyle:{color:'#000', width:1.2}},
  axisTick:{show:true, length:6, inside:false, lineStyle:{color:'#000', width:1.2}},
  axisLabel:{fontSize:20, color:'#000', fontFamily:FONT, margin:15, formatter:v=>String(v)},
  splitLine:{show:false}}; }

const COL_X = [88, 349, 604, 831];
const legends = [LEG_COL1, LEG_COL2, LEG_COL3, LEG_COL4].map((names, i)=>({
  orient:'vertical', left:COL_X[i], top:1045, itemWidth:46, itemHeight:14, itemGap:8,
  selectedMode:false, padding:0,
  data:names.map(n => n === 'SBUV MOD' ? {name:n} : {name:n, itemStyle:{opacity:0, borderWidth:0}}),
  lineStyle:{width:'inherit'},
  textStyle:{fontSize:21, color:'#000', fontFamily:FONT, lineHeight:24, padding:[0,0,0,10]}
}));

const chart = echarts.init(document.getElementById('c'), null, {renderer:'canvas', width:1071, height:1236});
chart.setOption({
  animation:false, backgroundColor:'#fff',
  textStyle:{fontFamily:FONT},
  grid:grids, xAxis:[xAx(0), xAx(1)], yAxis:[yAx(0), yAx(1)],
  legend:legends,
  graphic:[
    {type:'rect', left:83, top:1040, z:-1, silent:true, shape:{width:974, height:230, r:6},
     style:{fill:'#fff', stroke:'#cccccc', lineWidth:1.2}},
    {type:'text', x:273, y:71, z:10, silent:true, style:{text:TITLE, fontSize:42, fontFamily:FONT, fill:'#000', verticalAlign:'middle', align:'left'}},
    {type:'text', x:273, y:602, z:10, silent:true, style:{text:TITLE, fontSize:42, fontFamily:FONT, fill:'#000', verticalAlign:'middle', align:'left'}}
  ],
  series
});
</script></body></html>
